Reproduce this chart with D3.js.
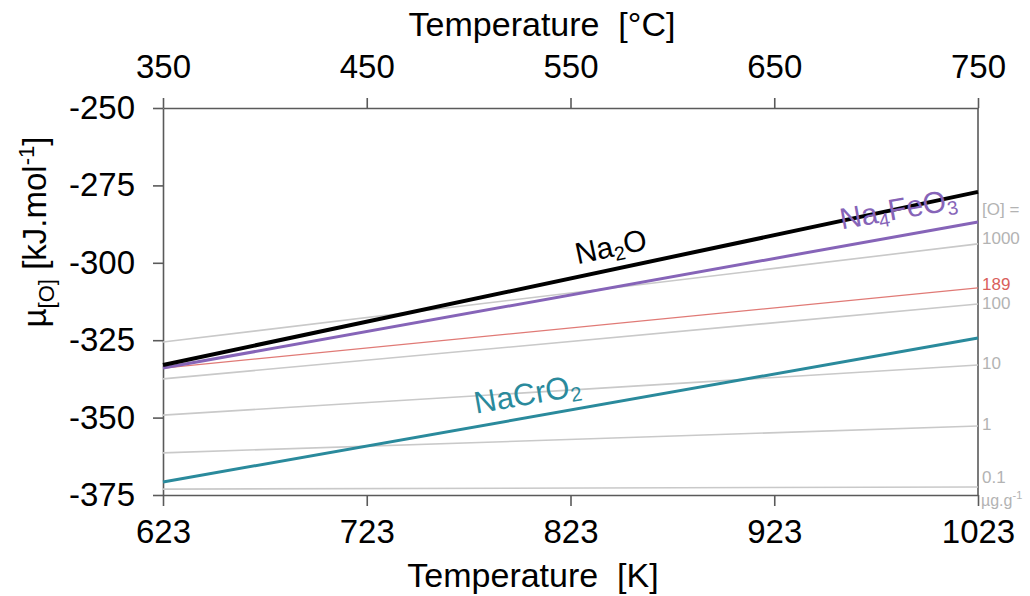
<!DOCTYPE html>
<html>
<head>
<meta charset="utf-8">
<script src="https://cdn.jsdelivr.net/npm/d3@7"></script>
<style>
  html, body { margin: 0; padding: 0; background: #fff; }
  svg { display: block; font-family: "Liberation Sans", Arial, sans-serif; }
</style>
</head>
<body>
<svg id="chart" width="1030" height="596"></svg>
<script>
// Temperature range (K) and matching Celsius ticks
const kelvinTicks = [623, 723, 823, 923, 1023];
const celsiusTicks = [350, 450, 550, 650, 750];
const muTicks = [-250, -275, -300, -325, -350, -375];

// Oxygen chemical potential (kJ/mol) at 623 K and 1023 K
const tempEnds = [623, 1023];
const na2O = [-333.0, -277.1];
const na4FeO3 = [-334.0, -286.8];
const naCrO2 = [-370.8, -324.3];

// Dissolved oxygen iso-concentration lines (µg/g)
const isoLabels = ["1000", "100", "10", "1", "0.1"];
const isoStart = [-325.6, -337.5, -349.2, -361.4, -373.1];
const isoEnd = [-293.9, -313.3, -333.0, -352.7, -372.4];
const refLabel = "189";
const refLine = [-334.0, -308.1];

const svg = d3.select("#chart");
const m = { left: 163, right: 978, top: 108, bottom: 495 };

const x = d3.scaleLinear().domain([623, 1023]).range([m.left, m.right]);
const xC = d3.scaleLinear().domain([350, 750]).range([m.left, m.right]);
const y = d3.scaleLinear().domain([-250, -375]).range([m.top, m.bottom]);

const axisColor = "#5a5a5a";
const plain = d => String(d);

function styleAxis(g, fontSize) {
  g.selectAll(".domain").attr("stroke", axisColor).attr("stroke-width", 1.6);
  g.selectAll(".tick line").attr("stroke", axisColor).attr("stroke-width", 1.6);
  g.selectAll(".tick text").attr("fill", "#000").style("font-size", fontSize + "px")
    .style("font-family", '"Liberation Sans", Arial, sans-serif');
}

// Bottom axis (K)
const gx = svg.append("g").attr("transform", `translate(0,${m.bottom})`)
  .call(d3.axisBottom(x).tickValues(kelvinTicks).tickFormat(plain)
    .tickSize(11).tickSizeOuter(0).tickPadding(14));
styleAxis(gx, 33);

// Top axis (°C)
const gxt = svg.append("g").attr("transform", `translate(0,${m.top})`)
  .call(d3.axisTop(xC).tickValues(celsiusTicks).tickFormat(plain)
    .tickSize(10).tickSizeOuter(0).tickPadding(20));
styleAxis(gxt, 33);

// Left axis
const gy = svg.append("g").attr("transform", `translate(${m.left},0)`)
  .call(d3.axisLeft(y).tickValues(muTicks).tickFormat(plain)
    .tickSize(10).tickSizeOuter(0).tickPadding(18));
styleAxis(gy, 33);

// Right frame line
svg.append("line")
  .attr("x1", m.right).attr("x2", m.right)
  .attr("y1", m.top).attr("y2", m.bottom)
  .attr("stroke", axisColor).attr("stroke-width", 1.6);

const lineGen = d3.line().x(d => x(d[0])).y(d => y(d[1]));
const pts = vals => tempEnds.map((t, i) => [t, vals[i]]);

// Iso-concentration lines
isoLabels.forEach((lab, i) => {
  svg.append("path").datum(pts([isoStart[i], isoEnd[i]]))
    .attr("d", lineGen).attr("fill", "none")
    .attr("stroke", "#c9c9c9").attr("stroke-width", 1.6);
});
svg.append("path").datum(pts(refLine))
  .attr("d", lineGen).attr("fill", "none")
  .attr("stroke", "#e07a76").attr("stroke-width", 1.3);

// Oxide equilibrium lines
const phases = [
  { vals: naCrO2, color: "#2a8a9c", width: 3, parts: ["NaCrO", "2"], t: 802, off: 21, size: 31 },
  { vals: na4FeO3, color: "#8664b8", width: 3, parts: ["Na", "4", "FeO", "3"], t: 984, off: 25, size: 30 },
  { vals: na2O, color: "#000", width: 4, parts: ["Na", "2", "O"], t: 843, off: 21, size: 30 }
];
phases.forEach(p => {
  svg.append("path").datum(pts(p.vals))
    .attr("d", lineGen).attr("fill", "none")
    .attr("stroke", p.color).attr("stroke-width", p.width);
});

// Phase labels, rotated along their line
phases.forEach(p => {
  const slope = (y(p.vals[1]) - y(p.vals[0])) / (x(tempEnds[1]) - x(tempEnds[0]));
  const ang = Math.atan(slope) * 180 / Math.PI;
  const yv = p.vals[0] + (p.vals[1] - p.vals[0]) * (p.t - tempEnds[0]) / (tempEnds[1] - tempEnds[0]);
  const px = x(p.t), py = y(yv) - p.off;
  const t = svg.append("text")
    .attr("transform", `translate(${px},${py}) rotate(${ang})`)
    .attr("text-anchor", "middle").attr("dominant-baseline", "middle")
    .attr("fill", p.color).style("font-size", p.size + "px");
  p.parts.forEach((s, k) => {
    const sub = k % 2 === 1;
    const prevSub = k > 0 && (k - 1) % 2 === 1;
    const ts = t.append("tspan").text(s);
    if (sub) ts.attr("dy", 8).style("font-size", (p.size * 0.65) + "px");
    else if (prevSub) ts.attr("dy", -8);
  });
});

// Right-hand concentration labels
const rx = m.right + 4;
const gray = "#b3b3b3";
svg.append("text").attr("x", rx).attr("y", y(isoEnd[0]) - 33)
  .attr("dominant-baseline", "middle").attr("fill", gray)
  .style("font-size", "17px").text("[O] =");
const isoDy = [-4, 1, 0, 0, -8];
isoLabels.forEach((lab, i) => {
  svg.append("text").attr("x", rx).attr("y", y(isoEnd[i]) + isoDy[i])
    .attr("dominant-baseline", "middle").attr("fill", gray)
    .style("font-size", "17px").text(lab);
});
svg.append("text").attr("x", rx).attr("y", y(refLine[1]) - 2)
  .attr("dominant-baseline", "middle").attr("fill", "#d9605c")
  .style("font-size", "17px").text(refLabel);
const unit = svg.append("text").attr("x", rx - 1).attr("y", y(isoEnd[4]) + 15)
  .attr("dominant-baseline", "middle").attr("fill", gray).style("font-size", "16px");
unit.append("tspan").text("µg.g");
unit.append("tspan").attr("dy", -6).style("font-size", "11px").text("-1");

// Axis titles
svg.append("text").attr("x", 542).attr("y", 36).attr("text-anchor", "middle")
  .style("font-size", "34px").attr("fill", "#000").text("Temperature\u00a0 [°C]");
svg.append("text").attr("x", 533).attr("y", 587).attr("text-anchor", "middle")
  .style("font-size", "34px").attr("fill", "#000").text("Temperature\u00a0 [K]");

const yt = svg.append("text")
  .attr("transform", "translate(46,232) rotate(-90)")
  .attr("text-anchor", "middle").style("font-size", "33px").attr("fill", "#000");
yt.append("tspan").text("µ");
yt.append("tspan").attr("dy", 8).style("font-size", "22px").text("[O]");
yt.append("tspan").attr("dy", -8).text(" [kJ.mol");
yt.append("tspan").attr("dy", -12).style("font-size", "22px").text("-1");
yt.append("tspan").attr("dy", 12).text("]");
</script>
</body>
</html>
